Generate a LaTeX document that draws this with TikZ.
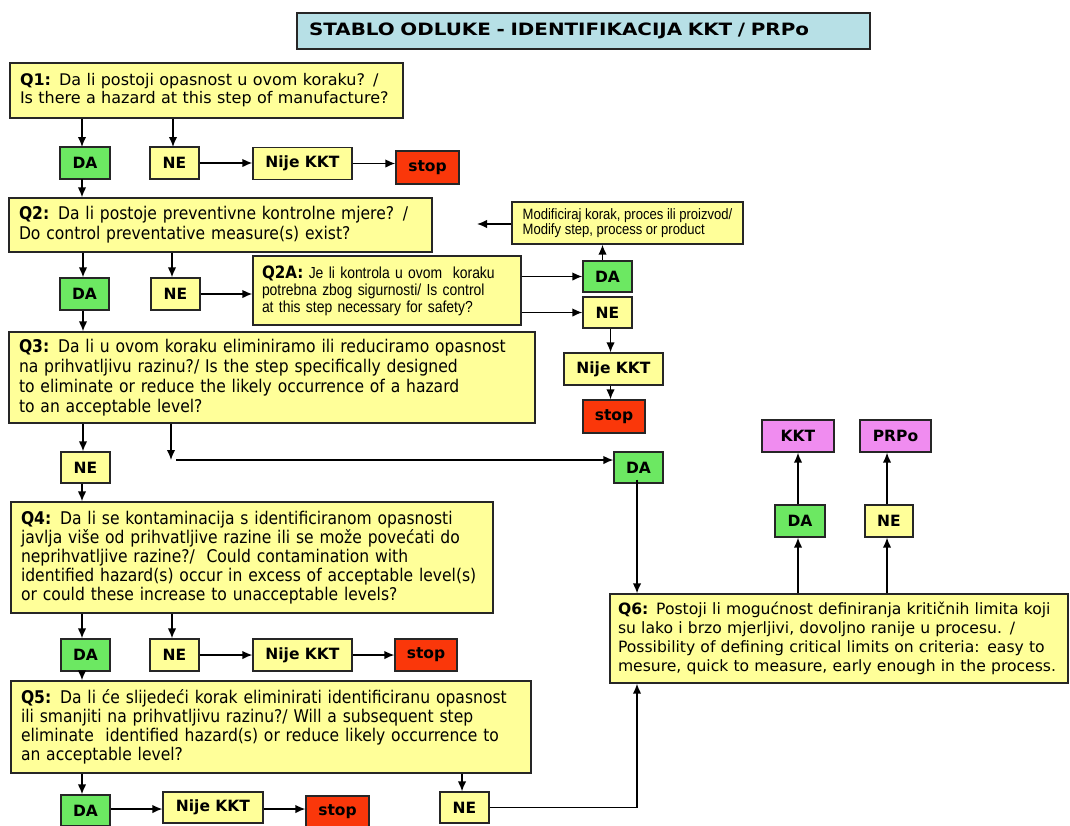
\documentclass[tikz,border=0pt]{standalone}
\usepackage{fontspec}
\usetikzlibrary{arrows.meta}
\setmainfont{DejaVu Sans}
\newfontfamily\condfont[FakeStretch=0.89]{DejaVu Sans}
\newfontfamily\narrowfont[FakeStretch=0.87]{Liberation Sans}
\newfontfamily\titlefont[FakeStretch=1.17]{DejaVu Sans}
\definecolor{boxyellow}{RGB}{255,255,153}
\definecolor{dagreen}{RGB}{108,232,98}
\definecolor{stopred}{RGB}{250,55,10}
\definecolor{endpink}{RGB}{240,140,240}
\definecolor{titleblue}{RGB}{183,224,230}
\tikzset{
	box/.style={draw=black!85, line width=1.3pt, fill=boxyellow, inner sep=0pt},
	qbox/.style={box, align=left, inner xsep=10pt},
	ans/.style={box, font=\fontsize{15.5}{18}\selectfont\bfseries, minimum height=32pt, minimum width=49pt},
	yes/.style={ans, fill=dagreen},
	no/.style={ans},
	nokkt/.style={ans, minimum width=99pt},
	stopbox/.style={ans, fill=stopred, minimum width=62pt, minimum height=33pt},
	endbox/.style={ans, fill=endpink, minimum width=72pt},
	arr/.style={-{Latex[length=10pt,width=8.5pt]}, line width=1.5pt},
}
\begin{document}
\begin{tikzpicture}[x=1pt,y=-1pt]
	\useasboundingbox (0,0) rectangle (1070,825);
	% title
	\node[box, fill=titleblue, align=left, inner xsep=12pt, text width=549pt, minimum height=36pt, font=\titlefont\fontsize{17}{20}\selectfont\bfseries] (title) at (583.5,31) {STABLO ODLUKE - IDENTIFIKACIJA KKT / PRPo};
	% Q1
	\node[qbox, text width=373pt, minimum height=55pt, font=\fontsize{16}{18}\selectfont] (q1) at (206.5,90.5) {{\bfseries Q1:} Da li postoji opasnost u ovom koraku? /\\Is there a hazard at this step of manufacture?};
	\node[yes, minimum width=50pt] (da1) at (85,163) {DA};
	\node[no] (ne1) at (174.5,163) {NE};
	\node[nokkt] (nije1) at (302.5,163.5) {Nije KKT};
	\node[stopbox, minimum width=63pt] (stop1) at (427.5,167.5) {stop};
	\draw[arr] (q1.south -| 82,0) -- (82,147);
	\draw[arr] (q1.south -| 173,0) -- (173,147);
	\draw[arr] (ne1.east) -- (nije1.west |- ne1.east);
	\draw[arr] (nije1.east) -- (stop1.west |- nije1.east);
	% Q2
	\node[qbox, text width=403pt, minimum height=54pt, font=\condfont\fontsize{17.5}{20}\selectfont] (q2) at (220.5,225) {{\bfseries Q2:} Da li postoje preventivne kontrolne mjere? /\\Do control preventative measure(s) exist?};
	\draw[arr] (82,179) -- (q2.north -| 82,0);
	\node[box, align=left, minimum width=231pt, minimum height=42pt, font=\narrowfont\fontsize{15}{15}\selectfont] (mod) at (627.5,223) {Modificiraj korak, proces ili proizvod/\\Modify step, process or product};
	\coordinate (modend) at (477,224);
	\draw[arr] (mod.west |- modend) -- (modend);
	\node[yes] (da2) at (84.5,294) {DA};
	\node[no] (ne2) at (175.5,294) {NE};
	\draw[arr] (q2.south -| 83,0) -- (da2.north -| 83,0);
	\draw[arr] (q2.south -| 172,0) -- (ne2.north -| 172,0);
	% Q2A
	\node[box, align=left, inner xsep=9pt, text width=250pt, minimum height=69pt, font=\narrowfont\fontsize{16}{17}\selectfont] (q2a) at (387,290.5) {{\condfont\bfseries\fontsize{17}{17}\selectfont Q2A:} Je li kontrola u ovom\ \ koraku\\potrebna zbog sigurnosti/ Is control\\at this step necessary for safety?};
	\draw[arr] (ne2.east) -- (q2a.west |- ne2.east);
	\node[yes, minimum height=31pt] (da3) at (607.5,276.5) {DA};
	\node[no, minimum height=31pt] (ne3) at (607.5,312.5) {NE};
	\draw[arr] (q2a.east |- da3.west) -- (da3.west);
	\draw[arr] (q2a.east |- ne3.west) -- (ne3.west);
	\draw[arr] ([xshift=-5pt]da3.north) -- ([xshift=-5pt]da3.north |- mod.south);
	\node[nokkt] (nije3) at (613.5,369) {Nije KKT};
	\node[stopbox] (stop3) at (614,416.5) {stop};
	\draw[arr] ([xshift=3pt]ne3.south) -- ([xshift=3pt]ne3.south |- nije3.north);
	\draw[arr] ([xshift=-3pt]nije3.south) -- ([xshift=-3pt]nije3.south |- stop3.north);
	% Q3
	\node[qbox, text width=506pt, minimum height=91pt, font=\condfont\fontsize{17.5}{20}\selectfont] (q3) at (272,377.5) {{\bfseries Q3:} Da li u ovom koraku eliminiramo ili reduciramo opasnost\\na prihvatljivu razinu?/ Is the step specifically designed\\to eliminate or reduce the likely occurrence of a hazard\\to an acceptable level?};
	\draw[arr] (da2.south -| 83,0) -- (q3.north -| 83,0);
	\node[no, minimum height=31pt] (ne4) at (85.5,467.5) {NE};
	\node[yes, minimum height=31pt] (da5) at (638.5,467.5) {DA};
	\coordinate (q3turn) at (171,460);
	\draw[arr] (q3.south -| 83,0) -- (ne4.north -| 83,0);
	\draw[arr] (q3.south -| q3turn) -- (q3turn);
	\draw[arr] ([xshift=5pt]q3turn) -- (da5.west |- q3turn);
	% Q4
	\node[qbox, text width=462pt, minimum height=111pt, font=\condfont\fontsize{17.5}{19}\selectfont] (q4) at (252,557.5) {{\bfseries Q4:} Da li se kontaminacija s identificiranom opasnosti\\javlja više od prihvatljive razine ili se može povećati do\\neprihvatljive razine?/\ \ Could contamination with\\identified hazard(s) occur in excess of acceptable level(s)\\or could these increase to unacceptable levels?};
	\draw[arr] (ne4.south -| 82,0) -- (q4.north -| 82,0);
	\node[yes] (da6) at (85.5,655) {DA};
	\node[no] (ne6) at (174.5,655) {NE};
	\node[nokkt] (nije6) at (302.5,655) {Nije KKT};
	\node[stopbox, minimum height=32pt] (stop6) at (426,655) {stop};
	\draw[arr] (q4.south -| 82,0) -- (da6.north -| 82,0);
	\draw[arr] (q4.south -| 172,0) -- (ne6.north -| 172,0);
	\draw[arr] (ne6.east) -- (nije6.west);
	\draw[arr] (nije6.east) -- (stop6.west);
	% Q5
	\node[qbox, text width=500pt, minimum height=92pt, font=\condfont\fontsize{17.5}{19}\selectfont] (q5) at (271,727) {{\bfseries Q5:} Da li će slijedeći korak eliminirati identificiranu opasnost\\ili smanjiti na prihvatljivu razinu?/ Will a subsequent step\\eliminate\ \ identified hazard(s) or reduce likely occurrence to\\an acceptable level?};
	\draw[arr] (da6.south -| 82,0) -- (q5.north -| 82,0);
	\node[yes, minimum height=31pt] (da7) at (85.5,810.5) {DA};
	\node[nokkt, minimum width=100pt, minimum height=31pt] (nije7) at (213,807.5) {Nije KKT};
	\node[stopbox, minimum width=63pt, minimum height=31pt] (stop7) at (337.5,811.5) {stop};
	\node[no, minimum height=31pt] (ne7) at (464.5,807.5) {NE};
	\draw[arr] (q5.south -| 82,0) -- (da7.north -| 82,0);
	\draw[arr] (q5.south -| 462,0) -- (ne7.north -| 462,0);
	\draw[arr] (da7.east |- 0,809) -- (nije7.west |- 0,809);
	\draw[arr] (nije7.east |- 0,809) -- (stop7.west |- 0,809);
	% Q6
	\node[qbox, inner xsep=8pt, text width=442pt, minimum height=89pt, font=\fontsize{15.6}{19}\selectfont] (q6) at (839,638.5) {{\bfseries Q6:} Postoji li mogućnost definiranja kritičnih limita koji\\su lako i brzo mjerljivi, dovoljno ranije u procesu. /\\Possibility of defining critical limits on criteria: easy to\\mesure, quick to measure, early enough in the process.};
	\draw[arr] ([yshift=4pt]da5.south -| 637,0) -- (q6.north -| 637,0);
	\draw[arr] (ne7.east) -| (q6.south -| 637,0);
	\node[yes, minimum width=50pt] (da8) at (800,521) {DA};
	\node[no, minimum width=48pt] (ne8) at (889,521) {NE};
	\node[endbox] (kkt) at (798,436) {KKT};
	\node[endbox, minimum width=71pt] (prpo) at (895.5,436) {PRPo};
	\draw[arr] (q6.north -| 798,0) -- (da8.south -| 798,0);
	\draw[arr] (da8.north -| 798,0) -- (kkt.south -| 798,0);
	\draw[arr] (q6.north -| 887,0) -- (ne8.south -| 887,0);
	\draw[arr] (ne8.north -| 887,0) -- (prpo.south -| 887,0);
\end{tikzpicture}
\end{document}
